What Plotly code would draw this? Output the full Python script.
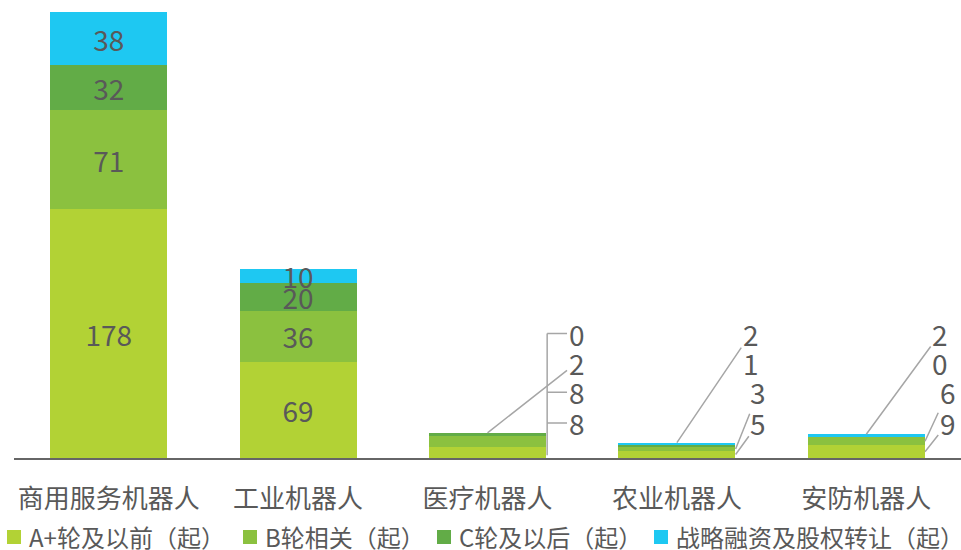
import plotly.graph_objects as go

categories = ["商用服务机器人", "工业机器人", "医疗机器人", "农业机器人", "安防机器人"]
series_names = ["A+轮及以前（起）", "B轮相关（起）", "C轮及以后（起）", "战略融资及股权转让（起）"]
a_vals = [178, 69, 8, 5, 9]
b_vals = [71, 36, 8, 3, 6]
c_vals = [32, 20, 2, 1, 0]
d_vals = [38, 10, 0, 2, 2]
colors = ["#B2D235", "#8BC13F", "#62AC47", "#1EC8F2"]

all_vals = [a_vals, b_vals, c_vals, d_vals]
big = [True, True, False, False, False]  # bars whose labels sit inside
TXT = "#595959"
LINE = "#A6A6A6"
FONT = "Noto Sans CJK SC"

W, H = 961, 550
L, R, T, B = 14, 0, 12, 92
PW, PH = W - L - R, H - T - B


def px_x(p):
    return (p - L) / PW


def px_y(p):
    return (H - B - p) / PH


fig = go.Figure()
for name, vals, col in zip(series_names, all_vals, colors):
    fig.add_trace(go.Bar(
        x=list(range(len(categories))), y=vals, name=name,
        marker=dict(color=col, line=dict(width=0)),
        text=[str(v) if bg else "" for v, bg in zip(vals, big)],
        textposition="inside", insidetextanchor="middle",
        constraintext="none", textangle=0,
        textfont=dict(size=28, color=TXT, family=FONT),
        hoverinfo="skip", showlegend=False,
    ))

# leader-line labels for small bars
label_y = [25, 47, 68, 89]   # label heights (data units) for A,B,C,D
half_w = 0.31
annotations = []
shapes = []
for i, bg in enumerate(big):
    if bg:
        continue
    cum = 0
    lows = []
    for vals in all_vals:
        lows.append(cum)
        cum += vals[i]
    total = cum
    for k, vals in enumerate(all_vals):
        v = vals[i]
        mid = lows[k] + v / 2
        if i == 2:
            lx = i + 0.47
        else:
            lx = i + (0.43 if k < 2 else 0.39)
        if i == 2:
            if k == 2:
                tx, ty = i, total
            else:
                tx, ty = i + half_w + 0.005, label_y[k]
        else:
            if k == 3:
                tx, ty = i, total
            elif k == 2:
                tx, ty = None, None
            else:
                tx, ty = i + half_w, mid
        ann = dict(text=str(v), font=dict(size=28, color=TXT, family=FONT),
                   xref="x", yref="y")
        if tx is None:
            ann.update(x=lx, y=label_y[k], showarrow=False)
        else:
            ann.update(x=tx, y=ty, ax=lx, ay=label_y[k], axref="x", ayref="y",
                       showarrow=True, arrowhead=0, arrowwidth=1.5,
                       arrowcolor=LINE, standoff=0, startstandoff=0)
        annotations.append(ann)
    if i == 2:
        shapes.append(dict(type="line", xref="x", yref="y",
                           x0=i + half_w + 0.005, x1=i + half_w + 0.005,
                           y0=2, y1=label_y[3],
                           line=dict(color=LINE, width=1.5)))

# manual legend (square + text) along the bottom
legend_sq_x = [7, 243, 437, 654]
legend_tx_x = [27, 263, 457, 674]
for name, col, sx, tx in zip(series_names, colors, legend_sq_x, legend_tx_x):
    shapes.append(dict(type="rect", xref="paper", yref="paper",
                       x0=px_x(sx), x1=px_x(sx + 14), y0=px_y(544), y1=px_y(530),
                       fillcolor=col, line=dict(width=0)))
    annotations.append(dict(text=name, xref="paper", yref="paper",
                            x=px_x(tx), y=px_y(536), xanchor="left", yanchor="middle",
                            showarrow=False,
                            font=dict(size=24, color=TXT, family=FONT)))

fig.update_layout(
    barmode="stack",
    bargap=0.383,
    width=W, height=H,
    margin=dict(l=L, r=R, t=T, b=B, autoexpand=False),
    paper_bgcolor="white", plot_bgcolor="white",
    font=dict(family=FONT, color=TXT),
    showlegend=False,
    annotations=annotations,
    shapes=shapes,
)
fig.update_xaxes(tickmode="array", tickvals=list(range(len(categories))), ticktext=categories,
                 range=[-0.5, len(categories) - 0.5], automargin=False,
                 showline=True, linecolor="#666666", linewidth=1.5,
                 showgrid=False, zeroline=False, ticks="",
                 tickfont=dict(size=26, color=TXT, family=FONT), ticklabelstandoff=17)
fig.update_yaxes(range=[0, 319], visible=False, showgrid=False, zeroline=False,
                 automargin=False)

fig.write_html("out.html", config={"displayModeBar": False},
               post_script="document.body.style.margin='0';")
